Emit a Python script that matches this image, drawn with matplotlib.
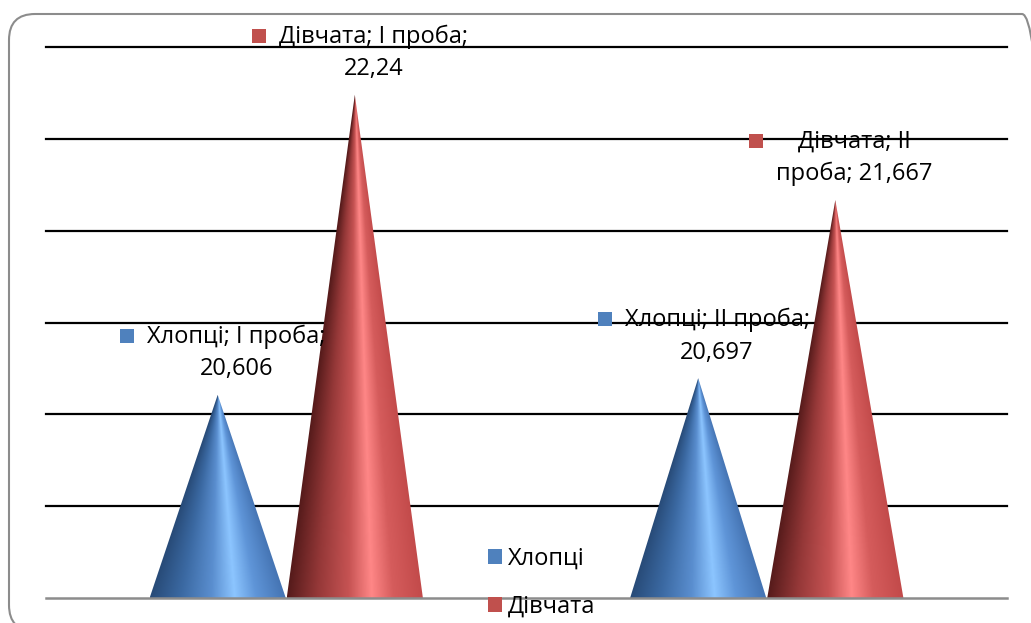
import textwrap
import numpy as np
import matplotlib
matplotlib.use("Agg")
import matplotlib.pyplot as plt
from matplotlib.colors import LinearSegmentedColormap
from matplotlib.patches import Polygon, FancyBboxPatch, Patch, Rectangle

plt.rcParams['font.family'] = ['Open Sans', 'DejaVu Sans']

# Дані
categories = ['І проба', 'ІІ проба']
series = ['Хлопці', 'Дівчата']
boys = [20.606, 20.697]
girls = [22.24, 21.667]
y_min, y_max, y_step = 19.5, 22.5, 0.5

marker_colors = ['#4f81bd', '#c0504d']
cone_maps = [
    LinearSegmentedColormap.from_list('blue_cone', [
        (0.0, '#284b78'), (0.22, '#3b69a2'), (0.45, '#5a8ecf'),
        (0.62, '#8cc5ff'), (0.78, '#5f95d8'), (1.0, '#4473b2')]),
    LinearSegmentedColormap.from_list('red_cone', [
        (0.0, '#561b1b'), (0.22, '#953838'), (0.45, '#c65353'),
        (0.62, '#ff8787'), (0.78, '#d55c5c'), (1.0, '#c24a4a')]),
]

fig = plt.figure(figsize=(10.31, 6.23), dpi=100)
ax = fig.add_axes([46 / 1031, 25 / 623, 961 / 1031, 551 / 623])

# Рамка діаграми
frame = FancyBboxPatch((9, -8), 1039, 617,
                       boxstyle='round,pad=0,rounding_size=26',
                       transform=None, facecolor='none',
                       edgecolor='#8c8c8c', linewidth=1.5)
fig.patches.append(frame)

ax.set_xlim(-0.5, len(categories) - 0.5)
ax.set_ylim(y_min, y_max)
ax.set_yticks(np.arange(y_min + y_step, y_max + 0.01, y_step))
ax.set_xticks([])
ax.tick_params(left=False, labelleft=False)
ax.grid(axis='y', color='black', linewidth=1.6)
for gl in ax.get_ygridlines():
    gl.set_clip_on(False)
ax.set_axisbelow(True)
for s in ['top', 'left', 'right']:
    ax.spines[s].set_visible(False)
ax.spines['bottom'].set_color('#8c8c8c')
ax.spines['bottom'].set_linewidth(1.8)

half_w = 0.1417
offsets = [-0.1427, 0.1427]
values = [boys, girls]

texts = []
for si, vals in enumerate(values):
    for ci, v in enumerate(vals):
        xc = ci + offsets[si]
        # затінення конуса: колір залежить від положення відносно осі конуса
        nx, ny = 300, 300
        xs = np.linspace(xc - half_w, xc + half_w, nx)
        ys = np.linspace(y_min, v, ny)
        X, Y = np.meshgrid(xs, ys)
        hw = half_w * (v - Y) / (v - y_min) + 1e-9
        u = np.clip((X - xc) / hw, -1, 1)
        img = cone_maps[si]((u + 1) / 2)
        im = ax.imshow(img, extent=[xc - half_w, xc + half_w, y_min, v],
                       origin='lower', aspect='auto', interpolation='bilinear',
                       zorder=2)
        tri = Polygon([(xc - half_w, y_min), (xc + half_w, y_min), (xc, v)],
                      closed=True, transform=ax.transData)
        im.set_clip_path(tri)

        val_txt = f"{v:g}".replace('.', ',')
        label = textwrap.fill(f"{series[si]}; {categories[ci]}; {val_txt}", 17)
        t = ax.annotate(label, xy=(xc, v), xytext=(19, 42),
                        textcoords='offset pixels', ha='center', va='center',
                        fontsize=17, linespacing=1.47, zorder=5,
                        annotation_clip=False)
        texts.append((t, si))

ax.set_xlim(-0.5, len(categories) - 0.5)
ax.set_ylim(y_min, y_max)

# Квадратні маркери біля підписів даних
fig.canvas.draw()
renderer = fig.canvas.get_renderer()
for t, si in texts:
    bb = t.get_window_extent(renderer)
    line_h = bb.height / 2
    top_line_c = bb.y1 - line_h / 2
    fig.patches.append(Rectangle((bb.x0 - 27, top_line_c - 4), 14, 14,
                                 transform=None, facecolor=marker_colors[si],
                                 edgecolor='none'))

handles = [Patch(facecolor=c, edgecolor='none') for c in marker_colors]
fig.legend(handles, series, loc='upper left', bbox_to_anchor=(476 / 1031, 1 - 535 / 623),
           frameon=False, fontsize=17, handlelength=0.6, handleheight=0.6,
           handletextpad=0.25, labelspacing=1.0, borderpad=0)

fig.savefig('out.png', dpi=100)
